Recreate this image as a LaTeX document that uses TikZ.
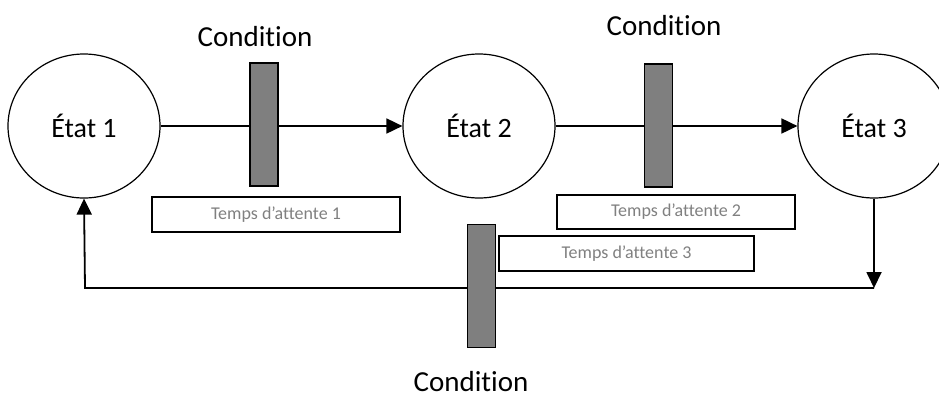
\documentclass[tikz,border=0pt]{standalone}
\usepackage{fontspec}
\setmainfont{Carlito}[Ligatures=NoCommon]
\usetikzlibrary{shapes.geometric,arrows.meta}
\definecolor{bargray}{HTML}{7F7F7F}
\definecolor{txtgray}{HTML}{808080}
\begin{document}
\begin{tikzpicture}[x=1pt,y=-1pt,
  etat/.style={draw,ellipse,line width=1.2pt,minimum width=152pt,minimum height=144pt,inner sep=0pt,font=\fontsize{28}{30}\selectfont},
  bar/.style={draw,rectangle,fill=bargray,line width=1.2pt,minimum width=28pt,minimum height=123pt,inner sep=0pt},
  tbox/.style={draw,rectangle,line width=1.8pt,inner sep=0pt,text=txtgray,font=\fontsize{18}{20}\selectfont},
  cond/.style={anchor=base,inner sep=0pt,font=\fontsize{29}{31}\selectfont},
  conn/.style={line width=1.8pt},
  arr/.style={conn,-{Triangle[length=16pt,width=15pt]}}]
\useasboundingbox (0,0) rectangle (939,397);
% states
\node[etat] (e1) at (84,126) {État 1};
\node[etat] (e2) at (479,126) {État 2};
\node[etat] (e3) at (874,126) {État 3};
% coordinates for the return path
\coordinate (c3) at (874,288);
\coordinate (c1) at (85,288);
% connectors
\draw[arr] (e1.east) -- (e2.west);
\draw[arr] (e2.east) -- (e3.west);
\draw[arr] (e3.south) -- (c3);
\draw[arr] (c3) -- (c1) -- (e1.south);
% condition bars
\node[bar] (b1) at (264,124.5) {};
\node[bar] (b2) at (658.5,125.5) {};
\node[bar] (b3) at (481.5,286) {};
% waiting-time boxes
\node[tbox,minimum width=248pt,minimum height=35pt] (t1) at (276,214.5) {Temps d’attente 1};
\node[tbox,minimum width=238pt,minimum height=34.5pt] (t2) at (676,212) {Temps d’attente 2};
\node[tbox,minimum width=255pt,minimum height=35pt] (t3) at (626.5,253.5) {Temps d’attente 3};
% condition labels
\node[cond] (l1) at (255,46) {Condition};
\node[cond] (l2) at (664,35) {Condition};
\node[cond] (l3) at (471,391) {Condition};
\end{tikzpicture}
\end{document}
